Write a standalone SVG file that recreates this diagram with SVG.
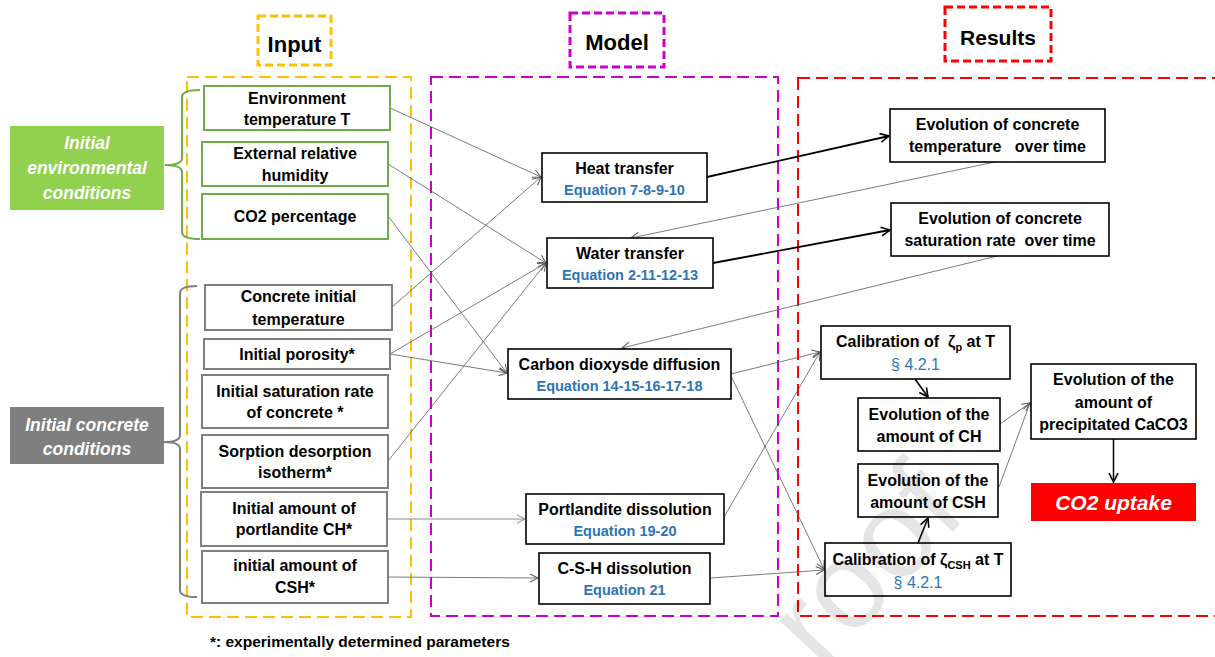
<svg xmlns="http://www.w3.org/2000/svg" width="1215" height="657" viewBox="0 0 1215 657">
<style>
text{font-family:"Liberation Sans",Arial,sans-serif;font-weight:bold;text-anchor:middle;}
.t{font-size:16px;fill:#000;}
.eq{font-size:14.5px;fill:#2E75B6;}
.sec{font-size:16px;fill:#2E75B6;font-weight:normal;}
.hd{font-size:22px;fill:#000;}
.lab{font-size:17.5px;fill:#fff;font-style:italic;}
.gbox{fill:#fff;stroke:#70AD47;stroke-width:2;}
.ybox{fill:#fff;stroke:#7F7F7F;stroke-width:2;}
.bbox{fill:#fff;stroke:#000;stroke-width:1.6;}
.thin{fill:none;stroke:#595959;stroke-width:0.8;marker-end:url(#ah);}
.thinl{fill:none;stroke:#8c8c8c;stroke-width:1;marker-end:url(#ahl);}
.thick{fill:none;stroke:#000;stroke-width:1.8;marker-end:url(#ahk);}
</style>
<defs>
<marker id="ah" viewBox="0 0 10 10" refX="9" refY="5" markerWidth="10" markerHeight="10" markerUnits="userSpaceOnUse" orient="auto"><path d="M1,1 L9,5 L1,9" fill="none" stroke="#595959" stroke-width="1"/></marker>
<marker id="ahl" viewBox="0 0 10 10" refX="9" refY="5" markerWidth="10" markerHeight="10" markerUnits="userSpaceOnUse" orient="auto"><path d="M1,1 L9,5 L1,9" fill="none" stroke="#8c8c8c" stroke-width="1"/></marker>
<marker id="ahk" viewBox="0 0 10 10" refX="9" refY="5" markerWidth="11" markerHeight="11" markerUnits="userSpaceOnUse" orient="auto"><path d="M1,1 L9,5 L1,9" fill="none" stroke="#000" stroke-width="1.5"/></marker>
</defs>
<rect width="1215" height="657" fill="#fff"/>

<!-- containers -->
<g id="containers" fill="none">
<rect x="187" y="77" width="224" height="540" stroke="#FFC000" stroke-width="2" stroke-dasharray="12,6"/>
<rect x="431" y="77" width="347" height="539" stroke="#CC00CC" stroke-width="2" stroke-dasharray="12,6"/>
<rect x="798" y="78" width="440" height="538" stroke="#FF0000" stroke-width="2" stroke-dasharray="12,6"/>
</g>

<g id="title-input"><rect x="258" y="16" width="73" height="49" fill="none" stroke="#FFC000" stroke-width="3" stroke-dasharray="8,4"/><text class="hd" x="294.5" y="52">Input</text></g>
<g id="title-model"><rect x="570" y="13" width="94" height="54" fill="none" stroke="#CC00CC" stroke-width="3" stroke-dasharray="8,4"/><text class="hd" x="617" y="50">Model</text></g>
<g id="title-results"><rect x="945" y="7" width="106" height="54" fill="none" stroke="#FF0000" stroke-width="3" stroke-dasharray="8,4"/><text class="hd" x="998" y="45" style="font-size:21px">Results</text></g>

<!-- side labels and brackets -->
<g id="env-label">
<rect x="10" y="126" width="154" height="84" fill="#92D050"/>
<text class="lab" x="87" y="149">Initial</text>
<text class="lab" x="87" y="174">environmental</text>
<text class="lab" x="87" y="199">conditions</text>
<path d="M200,90 Q182,90 182,97 L182,158 Q182,165 165,165 Q182,165 182,172 L182,232 Q182,239 200,239" fill="none" stroke="#70AD47" stroke-width="2"/>
</g>
<g id="concrete-label">
<rect x="10" y="407" width="154" height="57" fill="#7F7F7F"/>
<text class="lab" x="87" y="431">Initial concrete</text>
<text class="lab" x="87" y="455">conditions</text>
<path d="M197,286 Q180,286 180,293 L180,435 Q180,442 164,442 Q180,442 180,449 L180,590 Q180,597 197,597" fill="none" stroke="#7F7F7F" stroke-width="2"/>
</g>

<!-- connectors -->
<g id="connectors">
<line class="thin" x1="390" y1="108" x2="541" y2="177"/>
<line class="thin" x1="388" y1="164" x2="546" y2="263"/>
<line class="thin" x1="388" y1="216" x2="507" y2="373"/>
<line class="thin" x1="392" y1="307" x2="541" y2="177"/>
<line class="thin" x1="390" y1="354" x2="546" y2="263"/>
<line class="thin" x1="390" y1="354" x2="507" y2="373"/>
<line class="thin" x1="388" y1="461" x2="546" y2="263"/>
<line class="thinl" x1="387" y1="519" x2="525" y2="519"/>
<line class="thin" x1="388" y1="577" x2="538" y2="578"/>
<line class="thick" x1="707" y1="177" x2="889" y2="136"/>
<line class="thick" x1="713" y1="263" x2="890" y2="230"/>
<line class="thin" x1="995" y1="162" x2="631" y2="238"/>
<line class="thin" x1="997" y1="256" x2="622" y2="348"/>
<line class="thin" x1="731" y1="374" x2="820" y2="352"/>
<line class="thin" x1="731" y1="376" x2="824" y2="569"/>
<line class="thin" x1="724" y1="517" x2="820" y2="352"/>
<line class="thin" x1="711" y1="578" x2="824" y2="570"/>
<line class="thick" x1="915" y1="379" x2="928" y2="397" style="stroke-width:1.6"/>
<line class="thick" x1="918" y1="543" x2="928" y2="518" style="stroke-width:1.6"/>
<line class="thin" x1="1000" y1="424" x2="1030" y2="403"/>
<line class="thin" x1="999" y1="487" x2="1030" y2="403"/>
<line class="thick" x1="1113.5" y1="439" x2="1113.5" y2="482" style="stroke-width:1.5"/>
</g>

<!-- input nodes -->
<g id="in-envT"><rect class="gbox" x="204" y="86" width="186" height="44"/><text class="t" x="297" y="104">Environment</text><text class="t" x="297" y="125">temperature T</text></g>
<g id="in-rh"><rect class="gbox" x="202" y="142" width="186" height="44"/><text class="t" x="295" y="159">External relative</text><text class="t" x="295" y="181">humidity</text></g>
<g id="in-co2"><rect class="gbox" x="202" y="194" width="186" height="45"/><text class="t" x="295" y="222">CO2 percentage</text></g>
<g id="in-cT"><rect class="ybox" x="205" y="285" width="187" height="45"/><text class="t" x="298.5" y="302">Concrete initial</text><text class="t" x="298.5" y="325">temperature</text></g>
<g id="in-por"><rect class="ybox" x="204" y="339" width="186" height="30"/><text class="t" x="297" y="360">Initial porosity*</text></g>
<g id="in-sat"><rect class="ybox" x="202" y="375" width="186" height="53"/><text class="t" x="295" y="397">Initial saturation rate</text><text class="t" x="295" y="418">of concrete *</text></g>
<g id="in-iso"><rect class="ybox" x="202" y="435" width="186" height="53"/><text class="t" x="295" y="457">Sorption desorption</text><text class="t" x="295" y="478">isotherm*</text></g>
<g id="in-ch"><rect class="ybox" x="201" y="492" width="186" height="54"/><text class="t" x="294" y="514">Initial amount of</text><text class="t" x="294" y="535">portlandite CH*</text></g>
<g id="in-csh"><rect class="ybox" x="202" y="551" width="186" height="52"/><text class="t" x="295" y="571">initial amount of</text><text class="t" x="295" y="593">CSH*</text></g>

<!-- model nodes -->
<g id="m-heat"><rect class="bbox" x="542" y="153" width="165" height="49"/><text class="t" x="624.5" y="174">Heat transfer</text><text class="eq" x="624.5" y="195">Equation 7-8-9-10</text></g>
<g id="m-water"><rect class="bbox" x="547" y="238" width="166" height="50"/><text class="t" x="630" y="259">Water transfer</text><text class="eq" x="630" y="280">Equation 2-11-12-13</text></g>
<g id="m-co2"><rect class="bbox" x="508" y="349" width="223" height="50"/><text class="t" x="619.5" y="370">Carbon dioxysde diffusion</text><text class="eq" x="619.5" y="391">Equation 14-15-16-17-18</text></g>
<g id="m-port"><rect class="bbox" x="526" y="494" width="198" height="50"/><text class="t" x="625" y="515">Portlandite dissolution</text><text class="eq" x="625" y="536">Equation 19-20</text></g>
<g id="m-csh"><rect class="bbox" x="539" y="553" width="171" height="51"/><text class="t" x="624.5" y="574">C-S-H dissolution</text><text class="eq" x="624.5" y="595">Equation 21</text></g>

<!-- result nodes -->
<g id="r-temp"><rect class="bbox" x="890" y="109" width="215" height="53"/><text class="t" x="997.5" y="130">Evolution of concrete</text><text class="t" x="997.5" y="152" style="white-space:pre">temperature   over time</text></g>
<g id="r-sat"><rect class="bbox" x="891" y="203" width="218" height="53"/><text class="t" x="1000" y="224">Evolution of concrete</text><text class="t" x="1000" y="246" style="white-space:pre">saturation rate  over time</text></g>
<g id="r-zp"><rect class="bbox" x="821" y="326" width="189" height="53"/><text class="t" x="915.5" y="347" style="white-space:pre">Calibration of  ζ<tspan font-size="11" dy="4">p</tspan><tspan dy="-4"> at T</tspan></text><text class="sec" x="915.5" y="370">§ 4.2.1</text></g>
<g id="r-ch"><rect class="bbox" x="858" y="398" width="142" height="53"/><text class="t" x="929" y="420">Evolution of the</text><text class="t" x="929" y="442">amount of CH</text></g>
<g id="r-cshe"><rect class="bbox" x="858" y="464" width="140" height="53"/><text class="t" x="928" y="486">Evolution of the</text><text class="t" x="928" y="508">amount of CSH</text></g>
<g id="r-zcsh"><rect class="bbox" x="825" y="543" width="186" height="53"/><text class="t" x="918" y="565">Calibration of ζ<tspan font-size="11" dy="4">CSH</tspan><tspan dy="-4"> at T</tspan></text><text class="sec" x="918" y="588">§ 4.2.1</text></g>
<g id="r-caco3"><rect class="bbox" x="1031" y="364" width="165" height="75"/><text class="t" x="1113.5" y="385">Evolution of the</text><text class="t" x="1113.5" y="408">amount of</text><text class="t" x="1113.5" y="430">precipitated CaCO3</text></g>
<g id="r-uptake"><rect x="1031" y="483" width="165" height="38" fill="#FF0000"/><text x="1113.5" y="510" style="font-size:21px;fill:#fff;font-style:italic;">CO2 uptake</text></g>

<text x="210" y="647" style="font-size:15.5px;text-anchor:start;">*: experimentally determined parameters</text>

<!-- watermark -->
<text x="0" y="0" transform="translate(822,672) rotate(-47)" style="font-size:125px;fill:#000;fill-opacity:0.1;font-weight:normal;text-anchor:start;">roof</text>
</svg>
